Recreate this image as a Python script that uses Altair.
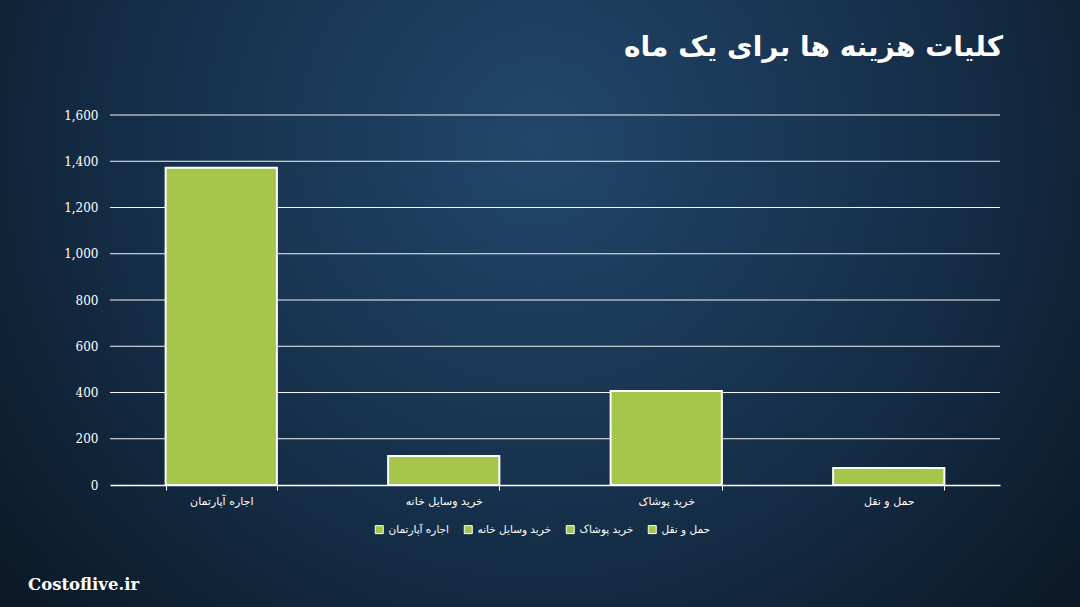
import altair as alt
import pandas as pd

categories = ["اجاره آپارتمان", "خرید وسایل خانه", "خرید پوشاک", "حمل و نقل"]
values = [1372, 125, 406, 74]
y_ticks = [0, 200, 400, 600, 800, 1000, 1200, 1400, 1600]
grid_vals = [200, 400, 600, 800, 1000, 1200, 1400, 1600]
title_text = "کلیات هزینه ها برای یک ماه"
watermark = "Costoflive.ir"
bar_color = "#a5c64a"

df = pd.DataFrame({"category": categories, "value": values})
grid_df = pd.DataFrame({"value": grid_vals})
one = pd.DataFrame({"k": [0]})

W, H = 890, 370
PL, PT, PR, PB = 110, 115, 80, 122

bg = alt.Chart(one).mark_rect(
    clip=False,
    color=alt.RadialGradient(
        gradient="radial",
        x1=0.5, y1=0.35, x2=0.5, y2=0.35, r1=0, r2=0.75,
        stops=[
            alt.GradientStop(offset=0, color="#22466a"),
            alt.GradientStop(offset=0.5, color="#152e48"),
            alt.GradientStop(offset=1, color="#08111a"),
        ],
    ),
).encode(
    x=alt.value(-PL), x2=alt.value(W + PR),
    y=alt.value(-PT), y2=alt.value(H + PB),
)

yscale = alt.Scale(domain=[0, 1600], nice=False)
yaxis = alt.Axis(title=None, values=y_ticks, format=",.0f",
                 labelColor="white", labelFont="DejaVu Serif",
                 labelFontSize=12, labelPadding=12, zindex=1,
                 domain=False, ticks=False, tickSize=0, tickOpacity=0,
                 grid=False)

grid = alt.Chart(grid_df).mark_rule(color="white", strokeWidth=1, opacity=0.95).encode(
    y=alt.Y("value:Q", scale=yscale, axis=yaxis),
    x=alt.value(0), x2=alt.value(W),
)

bars = alt.Chart(df).mark_bar(stroke="white", strokeWidth=2).encode(
    x=alt.X("category:N", sort=categories,
            scale=alt.Scale(paddingInner=0.5, paddingOuter=0.25),
            axis=alt.Axis(title=None, labelAngle=0, labelColor="white",
                          labelFont="DejaVu Sans", labelFontSize=11,
                          labelPadding=5, zindex=1,
                          domainColor="white", domainWidth=1.5,
                          tickColor="white", tickSize=5, tickBand="extent",
                          grid=False)),
    y=alt.Y("value:Q", scale=yscale, axis=yaxis),
    color=alt.Color("category:N", sort=categories,
                    scale=alt.Scale(domain=categories,
                                    range=[bar_color] * len(categories)),
                    legend=alt.Legend(title=None, orient="none",
                                      direction="horizontal",
                                      legendX=264, legendY=409,
                                      symbolType="square", symbolSize=64,
                                      symbolStrokeColor="white",
                                      symbolStrokeWidth=1,
                                      symbolOpacity=1,
                                      labelColor="white",
                                      labelFont="DejaVu Sans",
                                      labelFontSize=10.5,
                                      columnPadding=12)),
)

title = alt.Chart(one).mark_text(
    text=title_text, font="DejaVu Sans", fontSize=28, fontWeight="bold",
    color="white", align="right", baseline="middle",
).encode(x=alt.value(1003 - PL), y=alt.value(48 - PT))

wm = alt.Chart(one).mark_text(
    text=watermark, font="DejaVu Serif", fontSize=16.5, fontWeight="bold",
    color="white", align="left", baseline="middle",
).encode(x=alt.value(28 - PL), y=alt.value(585 - PT))

chart = alt.layer(bg, grid, bars, title, wm).resolve_scale(y="shared").properties(
    width=W, height=H,
    padding={"left": PL, "top": PT, "right": PR, "bottom": PB},
    autosize=alt.AutoSizeParams(type="none"),
    background="#0c1824",
).configure_view(stroke=None)

chart.save("out.html", embed_options={"renderer": "svg", "actions": False})
